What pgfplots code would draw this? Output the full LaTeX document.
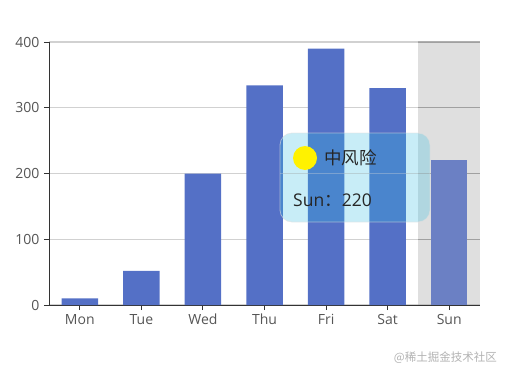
\documentclass[border=0pt]{standalone}
\usepackage{pgfplots}
\pgfplotsset{compat=1.18}
\usepackage{fontspec}
\setmainfont{Open Sans}
\newfontfamily\cjk{Noto Sans CJK SC}
\definecolor{barblue}{HTML}{5470C6}
\definecolor{barsun}{HTML}{6B80C4}
\definecolor{ticktxt}{HTML}{555555}
\definecolor{axisc}{HTML}{333333}
\definecolor{shadowc}{RGB}{150,150,150}
\definecolor{tipfill}{RGB}{50,190,225}
\begin{document}
\begin{tikzpicture}
\begin{axis}[
  scale only axis,
  width=431pt, height=263pt,
  at={(0pt,0pt)}, anchor=south west,
  xmin=-0.5, xmax=6.5,
  ymin=0, ymax=400,
  xtick={0,1,2,3,4,5,6},
  xticklabels={Mon,Tue,Wed,Thu,Fri,Sat,Sun},
  ytick={0,100,200,300,400},
  ymajorgrids,
  grid style={black, draw opacity=0.18, line width=1.1pt},
  axis x line*=bottom,
  axis y line*=left,
  axis line style={axisc, line width=0.9pt, -},
  tick style={axisc, line width=0.9pt},
  major tick length=5pt,
  tick align=outside,
  xtick pos=bottom, ytick pos=left,
  ticklabel style={font=\fontsize{14}{16}\selectfont, text=ticktxt},
  /pgf/number format/assume math mode=true,
  xticklabel style={yshift=-0.5pt},
  yticklabel style={xshift=-1pt},
  ybar, bar width=36.5pt,
  clip=false,
]
\fill[shadowc, fill opacity=0.3] (axis cs:5.5,0) rectangle (axis cs:6.5,400);
\draw[black, draw opacity=0.16, line width=1.1pt]
  (axis cs:5.5,100) -- (axis cs:6.5,100)
  (axis cs:5.5,200) -- (axis cs:6.5,200)
  (axis cs:5.5,300) -- (axis cs:6.5,300)
  (axis cs:5.5,400) -- (axis cs:6.5,400);
\addplot[fill=barblue, draw=none, bar shift=0pt] coordinates {(0,10) (1,52) (2,200) (3,334) (4,390) (5,330)};
\addplot[fill=barsun, draw=none, bar shift=0pt] coordinates {(6,220)};
\end{axis}
% tooltip
\fill[tipfill, fill opacity=0.27, rounded corners=12pt] (231pt,83pt) rectangle (381pt,172pt);
\draw[white!75!gray, draw opacity=0.6, line width=0.8pt, rounded corners=12pt] (231pt,83pt) rectangle (381pt,172pt);
\draw[white!70!gray, draw opacity=0.35, line width=0.6pt] (231pt,132pt) -- (381pt,132pt);
\fill[yellow] (256pt,147pt) circle (12pt);
\node[anchor=west, inner sep=0pt, text=black!85] at (275pt,147pt) {\cjk\fontsize{17.5}{20}\selectfont 中风险};
\node[anchor=west, inner sep=0pt, text=black!85] at (244pt,105pt) {\fontsize{17.5}{20}\selectfont Sun{\cjk ：}220};
\node[anchor=east, inner sep=0pt, text=black!30] at (448pt,-53pt) {\cjk\fontsize{11.5}{13}\selectfont @稀土掘金技术社区};
\path[use as bounding box] (-49pt,-73pt) rectangle (469pt,305pt);
\end{tikzpicture}
\end{document}
